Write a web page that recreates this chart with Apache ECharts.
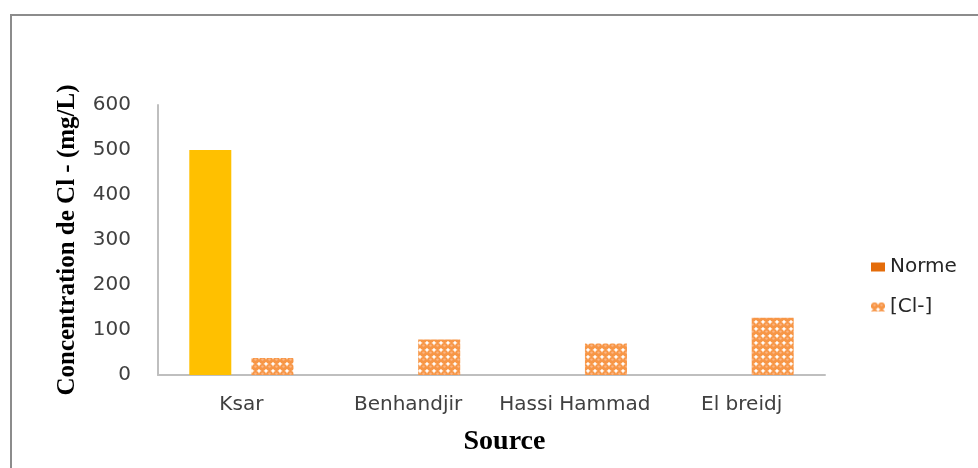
<!DOCTYPE html>
<html>
<head>
<meta charset="utf-8">
<style>
  html, body { margin: 0; padding: 0; background: #fff; }
  #chart { width: 978px; height: 468px; }
</style>
<script src="https://cdn.jsdelivr.net/npm/echarts@6/dist/echarts.min.js"></script>
</head>
<body>
<div id="chart"></div>
<script>
// Chloride concentration per water source, compared with the standard
const categories = ['Ksar', 'Benhandjir', 'Hassi Hammad', 'El breidj'];
const normeValues = [500, null, null, null];
const chlorideValues = [38, 79, 70, 127];
const yTicks = { min: 0, max: 600, interval: 100 };

// Dotted orange fill used for the chloride bars
function dotPattern() {
  const c = document.createElement('canvas');
  c.width = 7; c.height = 7;
  const g = c.getContext('2d');
  g.fillStyle = '#ffffff';
  g.fillRect(0, 0, 7, 7);
  g.fillStyle = '#F79646';
  g.beginPath();
  g.arc(3.5, 3.5, 3.55, 0, Math.PI * 2);
  g.fill();
  g.fillStyle = '#FBB584';
  g.beginPath();
  g.arc(3.5, 2.6, 1.2, 0, Math.PI * 2);
  g.fill();
  return c;
}

const chart = echarts.init(document.getElementById('chart'));
const labelFont = 'DejaVu Sans';

chart.setOption({
  animation: false,
  backgroundColor: '#ffffff',
  graphic: [{
    type: 'polyline',
    shape: { points: [[11, 468], [11, 15], [978, 15]] },
    style: { stroke: '#8c8c8c', lineWidth: 2, fill: null },
    silent: true
  }],
  grid: { left: 158, right: 153, top: 105, bottom: 93 },
  legend: {
    orient: 'vertical',
    left: 866,
    top: 252,
    itemWidth: 14,
    itemHeight: 9,
    itemGap: 20,
    icon: 'rect',
    textStyle: { fontFamily: labelFont, fontSize: 20, color: '#262626' },
    data: ['Norme', '[Cl-]']
  },
  xAxis: {
    type: 'category',
    data: categories,
    axisLine: { lineStyle: { color: '#bfbfbf', width: 2 } },
    axisTick: { show: false },
    axisLabel: { interval: 0, fontFamily: labelFont, fontSize: 20, color: '#404040', margin: 20 },
    name: 'Source',
    nameLocation: 'middle',
    nameGap: 53,
    nameTextStyle: {
      fontFamily: 'Liberation Serif', fontWeight: 'bold', fontSize: 28, color: '#000',
      padding: [0, 0, 0, 26]
    }
  },
  yAxis: {
    type: 'value',
    min: yTicks.min,
    max: yTicks.max,
    interval: yTicks.interval,
    splitLine: { show: false },
    axisLine: { show: true, lineStyle: { color: '#bfbfbf', width: 2 } },
    axisTick: { show: false },
    axisLabel: { fontFamily: labelFont, fontSize: 20, color: '#404040', margin: 27 },
    name: 'Concentration de Cl - (mg/L)',
    nameLocation: 'middle',
    nameGap: 78,
    nameTextStyle: {
      fontFamily: 'Liberation Serif', fontWeight: 'bold', fontSize: 25, color: '#000'
    }
  },
  series: [
    {
      name: 'Norme',
      type: 'bar',
      barWidth: 42,
      barGap: '48%',
      itemStyle: { color: '#E46C0A' },
      data: normeValues.map(v => v == null ? null : { value: v, itemStyle: { color: '#FFC000' } })
    },
    {
      name: '[Cl-]',
      type: 'bar',
      barWidth: 42,
      barGap: '48%',
      itemStyle: { color: { image: dotPattern(), repeat: 'repeat' } },
      data: chlorideValues
    }
  ]
});
</script>
</body>
</html>
